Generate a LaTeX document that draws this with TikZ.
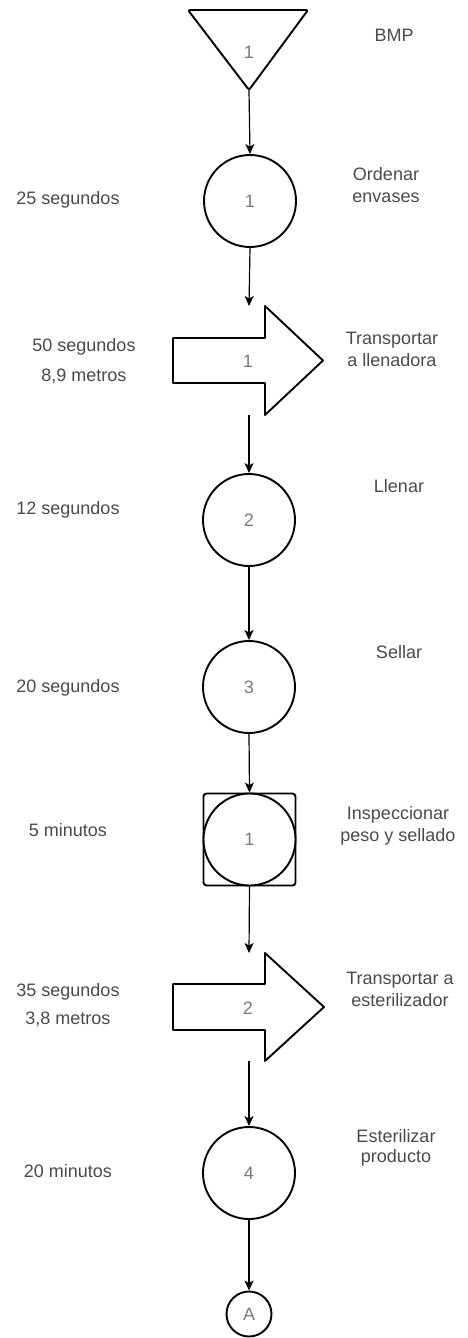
\documentclass[tikz,border=0pt]{standalone}
\usepackage{fontspec}
\setmainfont{Liberation Sans}
\usetikzlibrary{arrows.meta}
\definecolor{labelgray}{HTML}{4A4A4A}
\definecolor{numgray}{HTML}{7A7A7A}
\begin{document}
\begin{tikzpicture}[x=1pt,y=-1pt,
  shp/.style={draw=black,line width=1.9pt,line join=round,fill=white},
  circ/.style={circle,draw=black,line width=1.9pt,fill=white,minimum size=92pt,inner sep=0pt,
    font=\fontsize{18}{22}\selectfont,text=numgray},
  num/.style={font=\fontsize{18}{22}\selectfont,text=numgray,inner sep=0pt},
  lbl/.style={font=\fontsize{18}{22}\selectfont,text=labelgray,align=center,inner sep=0pt,
    text height=13pt,text depth=4pt},
  conn/.style={draw=black,line width=1.2pt,-{Stealth[length=10pt,width=9pt,inset=2.5pt]}}]
\useasboundingbox (0,0) rectangle (467,1338);

% BMP triangle
\draw[shp,rounded corners=2pt] (188,10) -- (308,10) -- (249,90) -- cycle;
\node[num] (t1) at (249,52) {1};
\coordinate (t1b) at (249,90);

% operation 1
\node[circ] (c1) at (250,201) {1};

% transport 1
\draw[shp] (173,338) -- (265,338) -- (265,306) -- (323,360.5) -- (265,415) -- (265,383) -- (173,383) -- cycle;
\node[num] (a1) at (248,361) {1};
\coordinate (a1t) at (249,306);
\coordinate (a1b) at (249,415);

% operations 2 and 3
\node[circ] (c2) at (249,520) {2};
\node[circ] (c3) at (249,687) {3};

% inspection + operation
\node[draw=black,line width=1.9pt,rounded corners=3pt,minimum size=92pt,inner sep=0pt,fill=white] (s1) at (249.5,839.5) {};
\node[circ] (i1) at (249.5,839.5) {1};

% transport 2
\draw[shp] (173,984) -- (265,984) -- (265,953) -- (324,1007) -- (265,1061) -- (265,1030) -- (173,1030) -- cycle;
\node[num] (a2) at (248,1008) {2};
\coordinate (a2t) at (249,953);
\coordinate (a2b) at (249,1061);

% operation 4
\node[circ] (c4) at (249,1173) {4};

% connector A
\node[circ,minimum size=45pt] (ca) at (249,1314) {A};

% connectors
\draw[conn] (t1b) -- (c1.north);
\draw[conn] (c1.south) -- (a1t);
\draw[conn] (a1b) -- (c2.north);
\draw[conn] (c2.south) -- (c3.north);
\draw[conn] (c3.south) -- (s1.north);
\draw[conn] (s1.south) -- (a2t);
\draw[conn] (a2b) -- (c4.north);
\draw[conn] (c4.south) -- (ca.north);

% right labels (two-line nodes are placed at the centre of their last line)
\node[lbl] (l0) at (394,37) {BMP};
\node[lbl] (l1) at (386,198) {Ordenar\\envases};
\node[lbl] (l2) at (392,362) {Transportar\\a llenadora};
\node[lbl] (l3) at (399,488) {Llenar};
\node[lbl] (l4) at (399,654) {Sellar};
\node[lbl] (l5) at (398,837) {Inspeccionar\\peso y sellado};
\node[lbl] (l6) at (400,1002) {Transportar a\\esterilizador};
\node[lbl] (l7) at (396,1158) {Esterilizar\\[-2pt]producto};

% left labels
\node[lbl] (r1) at (68,200) {25 segundos};
\node[lbl] (r2) at (84,377) {50 segundos\\[8pt]8,9 metros};
\node[lbl] (r3) at (68,510) {12 segundos};
\node[lbl] (r4) at (68,688) {20 segundos};
\node[lbl] (r5) at (68,832) {5 minutos};
\node[lbl] (r6) at (68,1020) {35 segundos\\[6pt]3,8 metros};
\node[lbl] (r7) at (68,1173) {20 minutos};
\end{tikzpicture}
\end{document}
